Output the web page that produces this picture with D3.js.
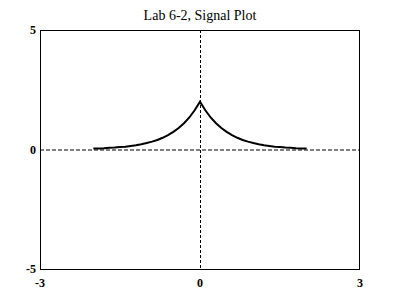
<!DOCTYPE html>
<html>
<head>
<meta charset="utf-8">
<script src="https://cdn.jsdelivr.net/npm/d3@7"></script>
<style>
body { margin: 0; background: #fff; }
svg text { font-family: "Liberation Serif", "Times New Roman", serif; fill: #000; }
</style>
</head>
<body>
<svg id="chart" width="400" height="300"></svg>
<script>
// signal samples
var tVals = [-2.0, -1.9, -1.8, -1.7, -1.6, -1.5, -1.4, -1.3, -1.2, -1.1, -1.0,
             -0.9, -0.8, -0.7, -0.6, -0.5, -0.4, -0.3, -0.2, -0.1, 0.0,
             0.1, 0.2, 0.3, 0.4, 0.5, 0.6, 0.7, 0.8, 0.9, 1.0,
             1.1, 1.2, 1.3, 1.4, 1.5, 1.6, 1.7, 1.8, 1.9, 2.0];
var yVals = [0.04, 0.04, 0.05, 0.07, 0.08, 0.10, 0.12, 0.15, 0.18, 0.22, 0.27,
             0.33, 0.40, 0.49, 0.60, 0.74, 0.90, 1.10, 1.34, 1.64, 2.00,
             1.64, 1.34, 1.10, 0.90, 0.74, 0.60, 0.49, 0.40, 0.33, 0.27,
             0.22, 0.18, 0.15, 0.12, 0.10, 0.08, 0.07, 0.05, 0.04, 0.04];
var xTicks = [-3, 0, 3];
var yTicks = [-5, 0, 5];
var title = "Lab 6-2, Signal Plot";

var svg = d3.select("#chart");
var plotL = 40, plotR = 360, plotT = 30, plotB = 269;

var x = d3.scaleLinear().domain([-3, 3]).range([plotL, plotR]);
var y = d3.scaleLinear().domain([-5, 5]).range([plotB, plotT]);

// dashed zero lines
svg.append("line")
    .attr("x1", x(0) + 0.5).attr("x2", x(0) + 0.5)
    .attr("y1", plotT).attr("y2", plotB)
    .attr("stroke", "#000").attr("stroke-dasharray", "3,2");
svg.append("line")
    .attr("x1", plotL).attr("x2", plotR)
    .attr("y1", y(0) + 0.5).attr("y2", y(0) + 0.5)
    .attr("stroke", "#000").attr("stroke-dasharray", "4,2");

// box
svg.append("rect")
    .attr("x", plotL + 0.5).attr("y", plotT + 0.5)
    .attr("width", plotR - plotL - 1).attr("height", plotB - plotT)
    .attr("fill", "none").attr("stroke", "#000");

var line = d3.line()
    .x(function(d, i) { return x(tVals[i]); })
    .y(function(d) { return y(d); });

svg.append("path")
    .attr("d", line(yVals))
    .attr("fill", "none")
    .attr("stroke", "#000")
    .attr("stroke-width", 2);

svg.append("text")
    .attr("x", 200).attr("y", 20)
    .attr("text-anchor", "middle")
    .attr("font-size", 14)
    .text(title);

svg.selectAll(".xt").data(xTicks).enter().append("text")
    .attr("x", function(d) { return x(d); })
    .attr("y", 287)
    .attr("text-anchor", "middle")
    .attr("font-size", 12).attr("font-weight", "bold")
    .text(function(d) { return d; });

svg.selectAll(".yt").data(yTicks).enter().append("text")
    .attr("x", 36)
    .attr("y", function(d) { return y(d) + 4; })
    .attr("text-anchor", "end")
    .attr("font-size", 12).attr("font-weight", "bold")
    .text(function(d) { return d; });
</script>
</body>
</html>
